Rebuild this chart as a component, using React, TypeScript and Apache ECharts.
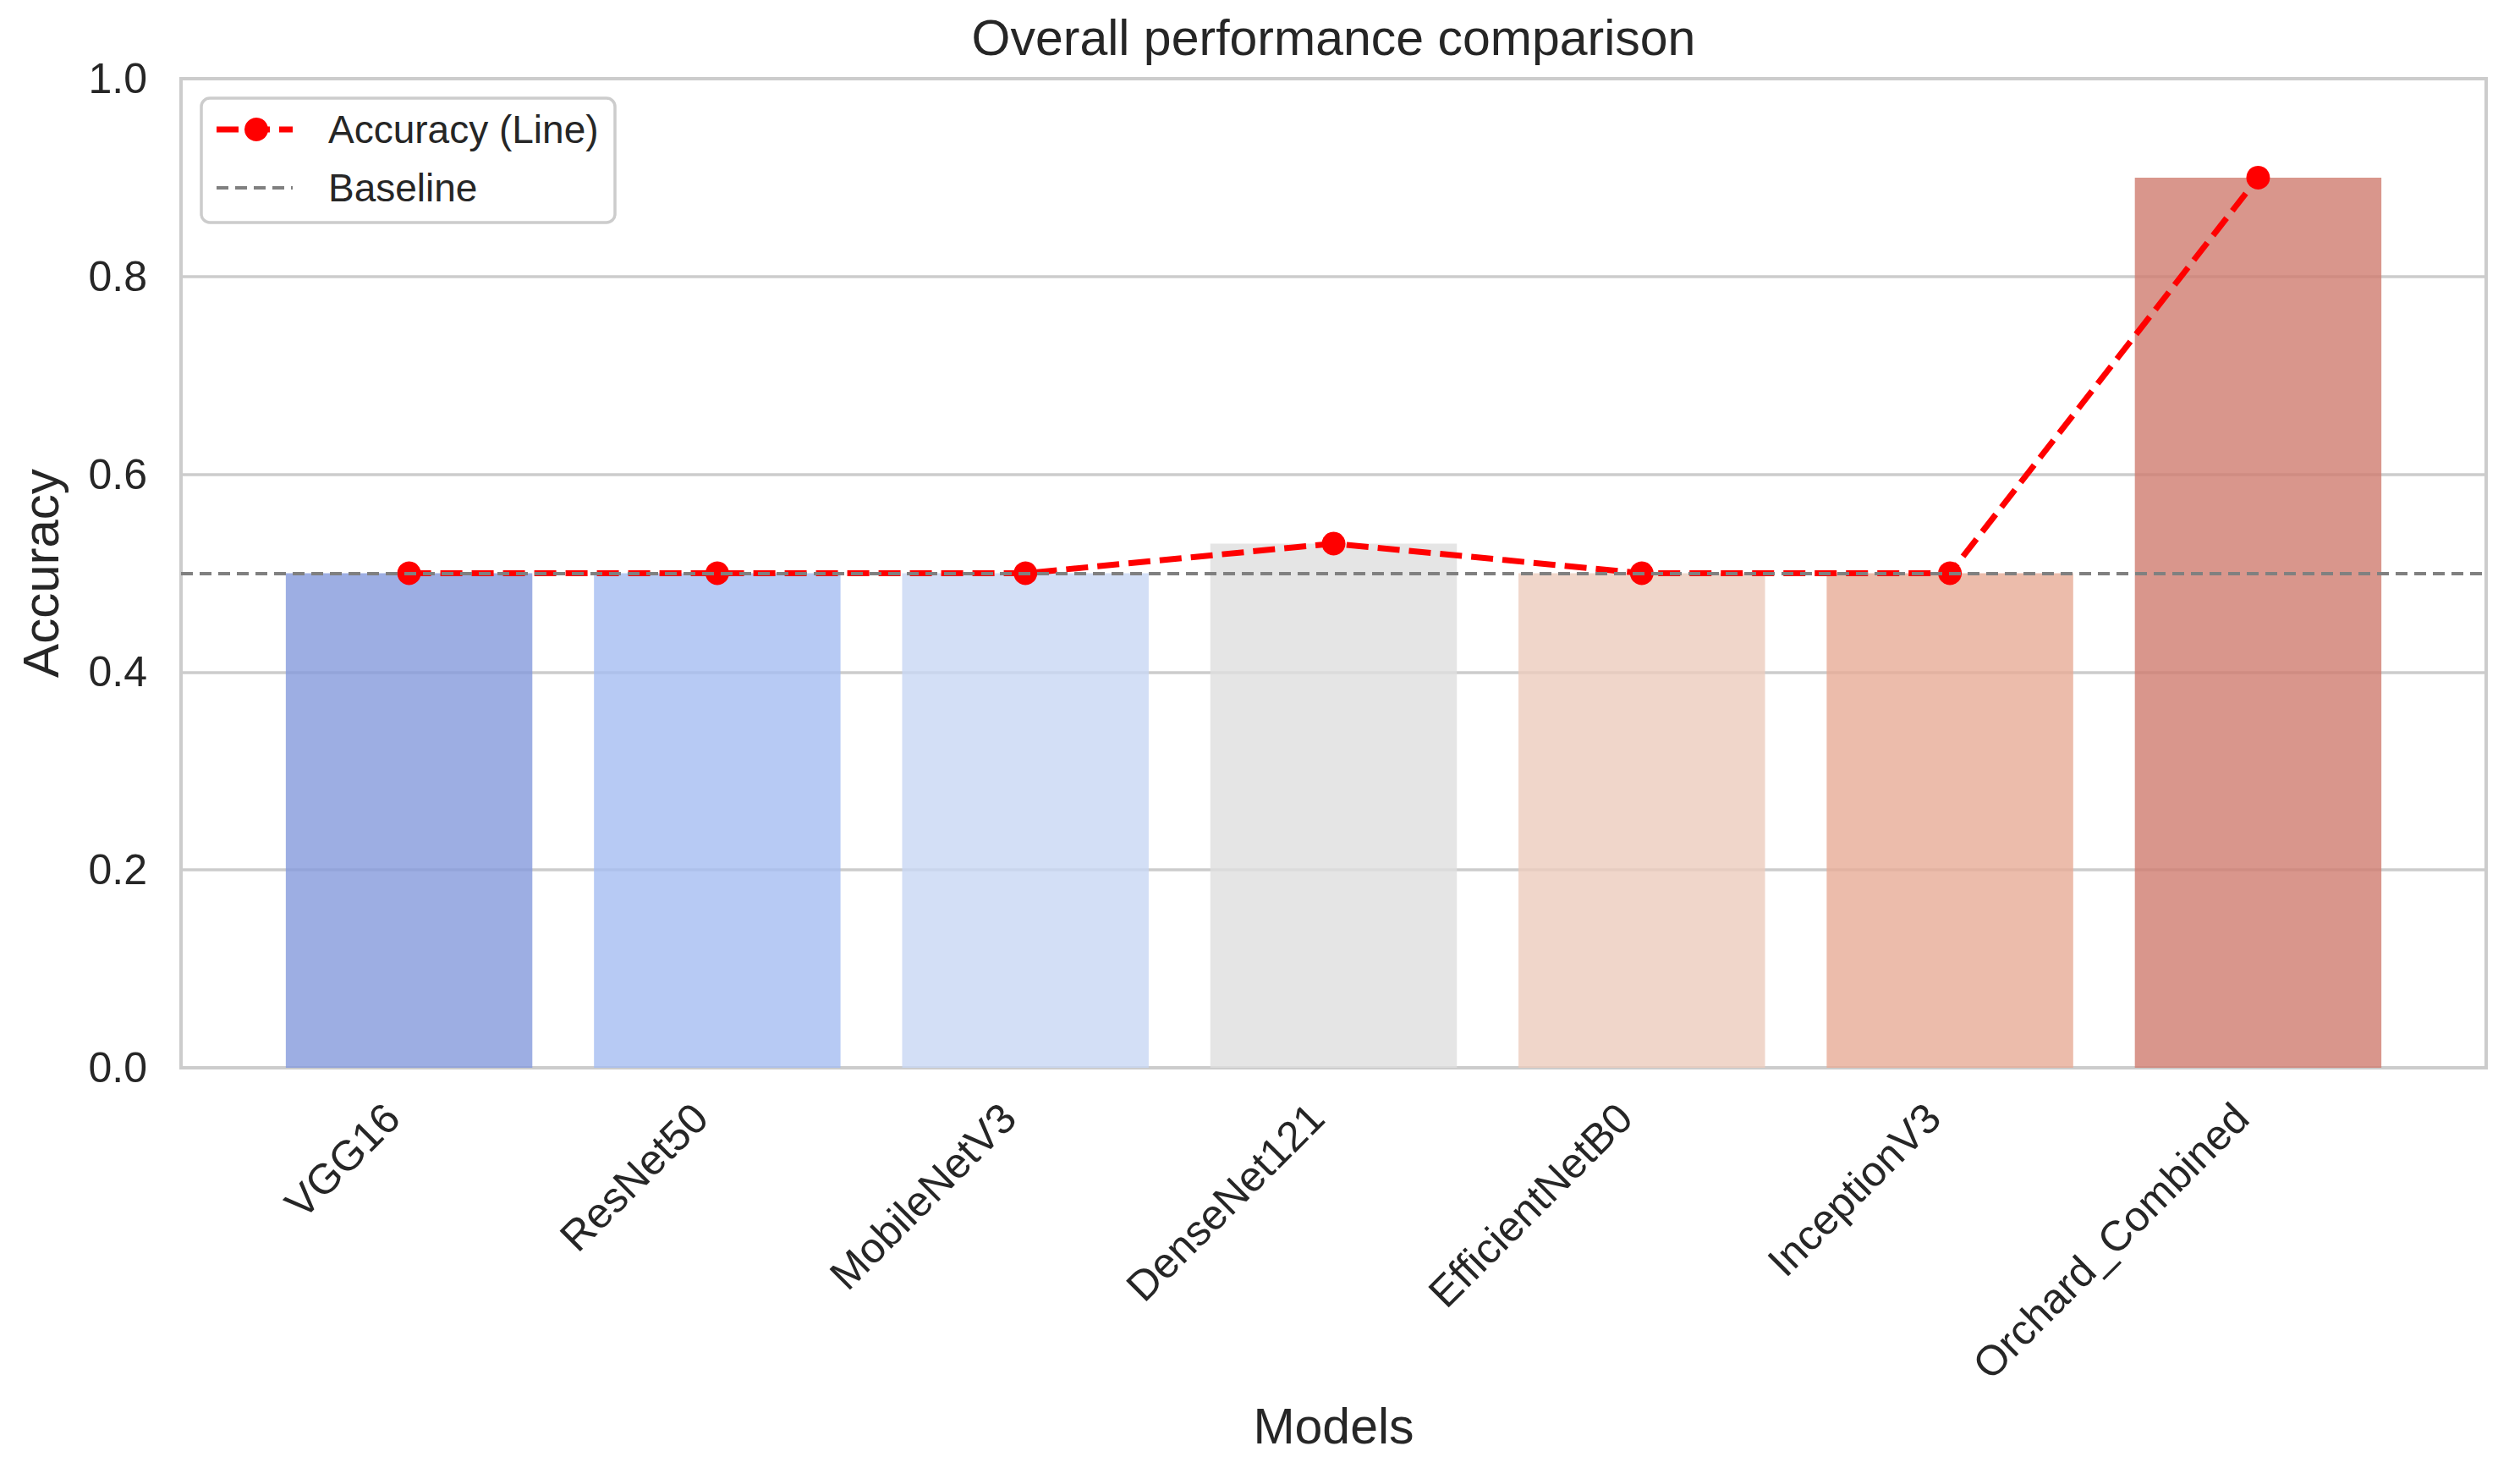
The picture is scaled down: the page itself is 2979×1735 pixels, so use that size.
import React, { useEffect, useRef } from 'react';
import * as echarts from 'echarts';

const categories = ['VGG16', 'ResNet50', 'MobileNetV3', 'DenseNet121', 'EfficientNetB0', 'InceptionV3', 'Orchard_Combined'];
const barValues = [0.5, 0.5, 0.5, 0.53, 0.5, 0.5, 0.9];
const lineValues = [0.5, 0.5, 0.5, 0.53, 0.5, 0.5, 0.9];
const barColors = ['#859ADC', '#A5BDF1', '#C8D7F4', '#DFDFDF', '#ECCCBD', '#E7AB96', '#D07C6F'];
const baselineValue = 0.5;
const legendNames = ['Accuracy (Line)', 'Baseline'];
const titleText = 'Overall performance comparison';
const xName = 'Models';
const yName = 'Accuracy';

const W = 2979;
const H = 1735;
const GRID = { left: 214, top: 93, width: 2725, height: 1169 };
const X_MIN = -0.74;
const X_MAX = 6.74;
const FONT = '"Liberation Sans", Arial, Helvetica, sans-serif';
const TEXT = '#262626';

export default function App() {
  const ref = useRef<HTMLDivElement>(null);

  useEffect(() => {
    document.body.style.margin = '0';
    if (!ref.current) return;
    const chart = echarts.init(ref.current, undefined, { renderer: 'svg' });
    const unitPx = GRID.width / (X_MAX - X_MIN);
    const idx = categories.map((_, i) => i);

    const option: any = {
      animation: false,
      backgroundColor: '#ffffff',
      textStyle: { fontFamily: FONT },
      title: {
        text: titleText,
        left: GRID.left + GRID.width / 2 - 5,
        top: 10,
        textAlign: 'center',
        textStyle: { fontSize: 59, fontWeight: 'normal', color: TEXT, fontFamily: FONT },
      },
      grid: {
        left: GRID.left,
        top: GRID.top,
        width: GRID.width,
        height: GRID.height,
        show: true,
        borderColor: '#cccccc',
        borderWidth: 4,
        backgroundColor: 'rgba(0,0,0,0)',
        containLabel: false,
        outerBoundsMode: 'none',
      },
      xAxis: {
        type: 'value',
        min: X_MIN,
        max: X_MAX,
        name: xName,
        nameLocation: 'middle',
        nameGap: 394,
        nameTextStyle: { fontSize: 59, color: TEXT, fontFamily: FONT },
        axisLine: { show: false },
        axisTick: { show: false, customValues: idx },
        splitLine: { show: false },
        axisLabel: {
          customValues: idx,
          formatter: (v: number) => categories[Math.round(v)] ?? '',
          rotate: 45,
          margin: 31,
          padding: [0, 28, 0, 0],
          fontSize: 50,
          color: TEXT,
          fontFamily: FONT,
        },
      },
      yAxis: {
        type: 'value',
        min: 0,
        max: 1,
        interval: 0.2,
        name: yName,
        nameLocation: 'middle',
        nameGap: 136,
        nameTextStyle: { fontSize: 60, color: TEXT, fontFamily: FONT },
        axisLine: { show: false },
        axisTick: { show: false },
        splitLine: { show: true, lineStyle: { color: '#cccccc', width: 3.5 } },
        axisLabel: {
          formatter: (v: number) => v.toFixed(1),
          fontSize: 50,
          color: TEXT,
          margin: 40,
          fontFamily: FONT,
        },
      },
      series: [
        {
          type: 'bar',
          name: 'Accuracy',
          barWidth: unitPx * 0.8,
          z: 2,
          data: barValues.map((v, i) => ({
            value: [i, v],
            itemStyle: { color: barColors[i], opacity: 0.8 },
          })),
        },
        {
          type: 'line',
          name: legendNames[0],
          z: 3,
          data: lineValues.map((v, i) => [i, v]),
          symbol: 'circle',
          symbolSize: 28,
          itemStyle: { color: '#ff0000' },
          lineStyle: { color: '#ff0000', width: 7, type: [26, 11] },
        },
        {
          type: 'line',
          name: legendNames[1],
          z: 4,
          data: [],
          markLine: {
            silent: true,
            symbol: ['none', 'none'],
            label: { show: false },
            lineStyle: { color: '#808080', width: 4, type: [14, 8] },
            data: [{ yAxis: baselineValue }],
          },
        },
      ],
      graphic: [
        {
          type: 'rect',
          z: 100,
          shape: { x: 238, y: 116, width: 489, height: 147, r: 10 },
          style: { fill: 'rgba(255,255,255,0.8)', stroke: '#cccccc', lineWidth: 3.5 },
        },
        {
          type: 'line',
          z: 101,
          shape: { x1: 256, y1: 153, x2: 346, y2: 153 },
          style: { stroke: '#ff0000', lineWidth: 7, lineDash: [26, 11] },
        },
        {
          type: 'circle',
          z: 102,
          shape: { cx: 303, cy: 153, r: 14 },
          style: { fill: '#ff0000' },
        },
        {
          type: 'text',
          z: 101,
          x: 388,
          y: 153,
          style: {
            text: legendNames[0],
            fontSize: 46,
            fontFamily: FONT,
            fill: TEXT,
            align: 'left',
            verticalAlign: 'middle',
          },
        },
        {
          type: 'line',
          z: 101,
          shape: { x1: 256, y1: 222, x2: 346, y2: 222 },
          style: { stroke: '#808080', lineWidth: 4, lineDash: [14, 8] },
        },
        {
          type: 'text',
          z: 101,
          x: 388,
          y: 222,
          style: {
            text: legendNames[1],
            fontSize: 46,
            fontFamily: FONT,
            fill: TEXT,
            align: 'left',
            verticalAlign: 'middle',
          },
        },
      ],
    };

    chart.setOption(option);
    return () => {
      chart.dispose();
    };
  }, []);

  return <div ref={ref} style={{ width: W, height: H }} />;
}
